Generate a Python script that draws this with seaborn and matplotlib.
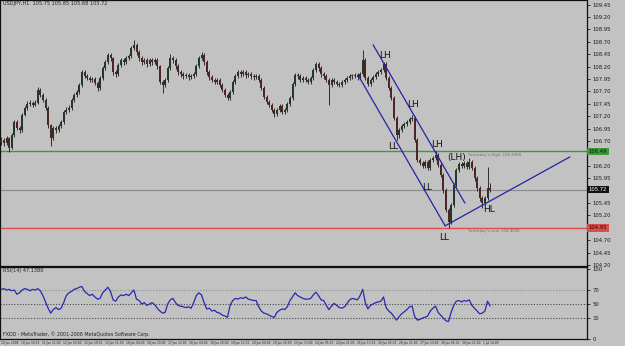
import numpy as np
import pandas as pd
import matplotlib
matplotlib.use("Agg")
import matplotlib.pyplot as plt
import matplotlib.transforms as mtransforms
import seaborn as sns

# ---------------- data ----------------
symbol = "USDJPY,H1"
first_open = 106.68
closes = [
    106.72, 106.66, 106.76, 106.56, 106.82, 107.08, 106.96, 106.92, 107.23, 107.37,
    107.45, 107.47, 107.43, 107.47, 107.73, 107.63, 107.53, 107.37, 107.02, 106.76,
    106.96, 106.92, 107.00, 107.08, 107.29, 107.33, 107.37, 107.53, 107.63, 107.69,
    107.83, 108.09, 108.01, 107.97, 107.93, 107.95, 107.87, 107.77, 107.97, 108.17,
    108.29, 108.43, 108.37, 108.09, 108.05, 108.23, 108.33, 108.29, 108.37, 108.41,
    108.58, 108.64, 108.49, 108.37, 108.29, 108.33, 108.25, 108.33, 108.29, 108.33,
    108.21, 107.89, 107.83, 107.93, 108.17, 108.37, 108.33, 108.21, 108.09, 108.05,
    108.01, 108.03, 107.99, 108.01, 108.05, 108.21, 108.37, 108.43, 108.29, 108.09,
    107.99, 107.93, 107.89, 107.93, 107.83, 107.73, 107.63, 107.57, 107.69, 107.89,
    108.01, 108.09, 108.05, 108.09, 108.03, 108.05, 108.01, 107.99, 108.01, 107.93,
    107.77, 107.59, 107.49, 107.43, 107.33, 107.24, 107.33, 107.41, 107.29, 107.33,
    107.45, 107.57, 107.85, 108.03, 108.01, 107.93, 107.97, 107.93, 107.89, 107.97,
    108.13, 108.25, 108.17, 108.05, 108.01, 107.93, 107.83, 107.93, 107.89, 107.85,
    107.83, 107.89, 107.93, 107.97, 108.01, 108.01, 108.03, 107.99, 108.05, 108.33,
    107.97, 107.85, 107.93, 107.99, 108.05, 108.09, 108.13, 108.25, 107.97, 107.77,
    107.57, 107.17, 106.82, 106.92, 107.00, 107.04, 107.08, 107.14, 107.17, 106.72,
    106.32, 106.26, 106.20, 106.28, 106.16, 106.32, 106.36, 106.42, 106.22, 106.02,
    105.71, 105.31, 105.07, 105.41, 105.81, 106.12, 106.24, 106.20, 106.26, 106.18,
    106.28, 106.16, 105.95, 105.75, 105.55, 105.45, 105.55, 105.75, 105.72,
]
highs = [
    106.78, 106.76, 106.80, 106.79, 106.86, 107.12, 107.12, 107.00, 107.27, 107.41,
    107.50, 107.52, 107.51, 107.52, 107.79, 107.77, 107.66, 107.56, 107.40, 107.05,
    107.00, 107.01, 107.05, 107.13, 107.33, 107.38, 107.42, 107.57, 107.67, 107.73,
    107.87, 108.14, 108.13, 108.05, 108.01, 108.00, 107.99, 107.90, 108.01, 108.21,
    108.33, 108.48, 108.47, 108.40, 108.13, 108.27, 108.37, 108.37, 108.41, 108.46,
    108.62, 108.74, 108.68, 108.53, 108.41, 108.38, 108.37, 108.37, 108.37, 108.37,
    108.37, 108.24, 107.93, 107.97, 108.21, 108.45, 108.41, 108.37, 108.25, 108.13,
    108.09, 108.07, 108.07, 108.05, 108.09, 108.25, 108.41, 108.50, 108.47, 108.33,
    108.13, 108.03, 107.97, 107.97, 107.97, 107.87, 107.77, 107.67, 107.73, 107.93,
    108.05, 108.13, 108.13, 108.13, 108.13, 108.09, 108.09, 108.05, 108.05, 108.05,
    107.97, 107.81, 107.63, 107.53, 107.47, 107.37, 107.37, 107.45, 107.45, 107.37,
    107.49, 107.61, 107.89, 108.07, 108.07, 108.05, 108.01, 108.01, 107.97, 108.01,
    108.17, 108.29, 108.29, 108.21, 108.09, 108.05, 107.97, 107.97, 107.97, 107.93,
    107.89, 107.93, 107.97, 108.01, 108.05, 108.05, 108.07, 108.07, 108.09, 108.54,
    108.37, 108.01, 107.97, 108.03, 108.09, 108.13, 108.17, 108.29, 108.29, 108.01,
    107.81, 107.61, 107.21, 106.96, 107.04, 107.08, 107.12, 107.18, 107.23, 107.21,
    106.76, 106.36, 106.30, 106.32, 106.32, 106.36, 106.40, 106.49, 106.46, 106.26,
    106.06, 105.75, 105.35, 105.45, 105.85, 106.16, 106.28, 106.28, 106.30, 106.30,
    106.36, 106.32, 106.20, 105.99, 105.79, 105.59, 105.59, 106.18, 105.85,
]
lows = [
    106.62, 106.60, 106.62, 106.48, 106.53, 106.79, 106.92, 106.86, 106.88, 107.20,
    107.33, 107.41, 107.38, 107.40, 107.44, 107.58, 107.48, 107.32, 106.96, 106.60,
    106.72, 106.87, 106.88, 106.96, 107.04, 107.25, 107.29, 107.33, 107.49, 107.59,
    107.65, 107.79, 107.97, 107.92, 107.88, 107.89, 107.82, 107.71, 107.73, 107.93,
    108.13, 108.25, 108.32, 108.04, 108.00, 108.01, 108.19, 108.24, 108.25, 108.33,
    108.37, 108.54, 108.44, 108.32, 108.24, 108.25, 108.20, 108.21, 108.24, 108.25,
    108.16, 107.84, 107.67, 107.78, 107.89, 108.13, 108.28, 108.16, 108.04, 108.00,
    107.96, 107.97, 107.94, 107.95, 107.97, 108.01, 108.17, 108.33, 108.24, 108.04,
    107.94, 107.88, 107.84, 107.85, 107.78, 107.68, 107.58, 107.53, 107.53, 107.65,
    107.85, 107.97, 108.00, 108.01, 107.98, 107.99, 107.96, 107.94, 107.95, 107.88,
    107.72, 107.54, 107.44, 107.38, 107.28, 107.18, 107.20, 107.29, 107.24, 107.25,
    107.29, 107.41, 107.53, 107.81, 107.96, 107.88, 107.89, 107.88, 107.84, 107.85,
    107.93, 108.09, 108.12, 108.00, 107.96, 107.88, 107.43, 107.78, 107.84, 107.80,
    107.78, 107.79, 107.85, 107.89, 107.93, 107.96, 107.97, 107.94, 107.95, 108.01,
    107.92, 107.80, 107.81, 107.89, 107.95, 108.01, 108.05, 108.09, 107.92, 107.72,
    107.52, 107.12, 106.72, 106.76, 106.88, 106.96, 107.00, 107.04, 107.10, 106.67,
    106.27, 106.21, 106.15, 106.16, 106.11, 106.12, 106.28, 106.32, 106.17, 105.97,
    105.66, 105.26, 104.95, 105.03, 105.37, 105.77, 106.08, 106.15, 106.16, 106.13,
    106.14, 106.11, 105.90, 105.70, 105.50, 105.35, 105.41, 105.51, 105.68,
]
rsi = [
    71, 72, 70, 71, 69, 70, 64, 66, 70, 72,
    71, 69, 71, 70, 72, 69, 62, 53, 44, 37,
    42, 45, 42, 44, 52, 62, 66, 68, 71, 72,
    74, 75, 68, 65, 62, 64, 60, 57, 58, 66,
    70, 74, 68, 56, 54, 60, 63, 62, 64, 62,
    66, 70, 57, 55, 50, 52, 48, 50, 52, 49,
    44, 40, 37, 38, 50, 56, 58, 52, 48, 47,
    46, 45, 46, 44, 52, 62, 66, 63, 52, 43,
    44, 40, 41, 38, 37, 34, 33, 31, 48, 55,
    58, 57, 59, 58, 60, 57, 56, 55, 55, 46,
    40, 37, 36, 34, 32, 31, 38, 41, 43, 42,
    46, 55, 60, 66, 62, 60, 58, 57, 57, 58,
    63, 67, 62, 56, 55, 48, 42, 47, 51, 48,
    45, 44, 46, 51, 56, 58, 57, 56, 62, 71,
    52, 43, 48, 50, 52, 53, 54, 60, 45, 40,
    37, 32, 27, 32, 36, 39, 42, 46, 47, 32,
    27, 28, 30, 31, 33, 40, 44, 47, 38, 34,
    30, 26, 25, 38, 48, 54, 55, 53, 55, 54,
    56, 48, 44, 40, 36, 37, 40, 54, 47.138,
]
yest_high = 106.49
yest_low = 104.95
price_ticks = [104.20, 104.45, 104.70, 104.95, 105.20, 105.45, 105.70, 105.95,
               106.20, 106.45, 106.70, 106.95, 107.20, 107.45, 107.70, 107.95,
               108.20, 108.45, 108.70, 108.95, 109.20, 109.45]
rsi_ticks = [0, 30, 50, 70, 100]
date_labels = ["10 Jun 2008", "10 Jun 19:00", "11 Jun 11:00", "12 Jun 03:00",
               "12 Jun 19:00", "13 Jun 11:00", "16 Jun 04:00", "16 Jun 20:00",
               "17 Jun 12:00", "18 Jun 04:00", "18 Jun 20:00", "19 Jun 12:00",
               "20 Jun 04:00", "20 Jun 20:00", "23 Jun 13:00", "24 Jun 05:00",
               "24 Jun 21:00", "25 Jun 13:00", "26 Jun 05:00", "26 Jun 21:00",
               "27 Jun 13:00", "30 Jun 05:00", "30 Jun 21:00", "1 Jul 14:00"]
# hand-drawn objects on the chart (bar index, price)
channel_upper = ([143.0, 178.3], [108.64, 105.45])
channel_lower = ([137.2, 170.7], [108.03, 104.99])
support_line = ([170.7, 218.7], [104.99, 106.38])
swing_labels = ["LH", "LH", "LL", "LH", "(LH)", "LL", "HL", "LL"]
swing_bar = [147.6, 158.3, 150.7, 167.6, 175.3, 163.7, 187.6, 170.3]
swing_price = [108.43, 107.43, 106.58, 106.62, 106.36, 105.77, 105.31, 104.76]

# ---------------- build frame ----------------
df = pd.DataFrame({"close": closes, "high": highs, "low": lows, "rsi": rsi})
df["open"] = [first_open] + closes[:-1]
df["bar"] = np.arange(len(df))
df["up"] = df["close"] >= df["open"]

bg = "#c2c2c2"
sns.set_style("white", {"axes.facecolor": bg, "figure.facecolor": bg})
plt.rcParams["font.family"] = ["DejaVu Sans"]

W, H = 625, 346
fig = plt.figure(figsize=(W / 100, H / 100), dpi=100)
ax = fig.add_axes([0, 1 - 266 / H, 587 / W, 266 / H])
ax_r = fig.add_axes([0, 1 - 339 / H, 587 / W, (339 - 267) / H])

px_per_bar = 2.6
xlim = (-0.5, 587 / px_per_bar - 0.5)
for a in (ax, ax_r):
    a.set_xlim(*xlim)
    a.set_facecolor(bg)
    for s in a.spines.values():
        s.set_color("#101010")
        s.set_linewidth(0.9)
ax.set_ylim(104.18, 109.543)
ax_r.set_ylim(0, 102.9)

# ---------------- candles ----------------
wick = "#161616"
ax.vlines(df["bar"], df["low"], df["high"], color=wick, lw=0.6, zorder=3)
body = (df["close"] - df["open"]).abs().clip(lower=0.012)
ax.bar(df["bar"], body, bottom=df[["open", "close"]].min(axis=1), width=0.62,
       color=np.where(df["up"], "#24382a", "#4f2424"), edgecolor="none", zorder=4)

# horizontal levels
ax.axhline(yest_high, color="#3a9a3a", lw=1.0, zorder=2)
ax.axhline(yest_low, color="#e04a4a", lw=1.0, zorder=2)
ax.axhline(closes[-1], color="#8a8a8a", lw=0.8, zorder=2)
ax.text(179.5, yest_high - 0.03, f"Yesterday's High: {yest_high:.4f}", fontsize=2.8,
        color="#6e6e6e", va="top", ha="left")
ax.text(179.5, yest_low - 0.03, f"Yesterday's Low: {yest_low:.4f}", fontsize=2.8,
        color="#6e6e6e", va="top", ha="left")

# trend lines
for xs, ys in (channel_upper, channel_lower, support_line):
    ax.plot(xs, ys, color="#2323a8", lw=0.9, zorder=5)

for t, b, p in zip(swing_labels, swing_bar, swing_price):
    ax.text(b, p, t, fontsize=6.5, color="#111111", ha="center", va="center", zorder=6)

# header
ax.text(0.005, 0.995, f"{symbol}  {df['open'].iloc[-1]:.2f} {highs[-1]:.2f} "
        f"{lows[-1]:.2f} {closes[-1]:.2f}", transform=ax.transAxes,
        fontsize=3.6, color="#222222", va="top", ha="left")

# price axis; labels hidden where a price box sits on top
boxes = [(yest_high, "#3a9a3a", "#111111"),
         (closes[-1], "#111111", "#ffffff"),
         (yest_low, "#e04a4a", "#111111")]
ax.yaxis.tick_right()
ax.set_yticks(price_ticks)
ax.set_yticklabels(["" if min(abs(v - b[0]) for b in boxes) < 0.1 else f"{v:.2f}"
                    for v in price_ticks])
ax.tick_params(axis="y", direction="out", length=2.5, width=0.6, labelsize=3.8,
               pad=1.5, colors="#1a1a1a")
ax.tick_params(axis="x", bottom=False, labelbottom=False)
trans = mtransforms.blended_transform_factory(ax.transAxes, ax.transData)
for val, fc, tc in boxes:
    ax.text(1.003, val, f"{val:.2f}", transform=trans, fontsize=3.8, color=tc,
            ha="left", va="center", clip_on=False, zorder=10,
            bbox=dict(boxstyle="square,pad=0.25", fc=fc, ec="none"))

# ---------------- RSI ----------------
for lvl, col in ((70, "#8f8f8f"), (50, "#4a4a4a"), (30, "#4a4a4a")):
    ax_r.axhline(lvl, color=col, lw=0.8, ls=(0, (1, 1.5)), zorder=1)
sns.lineplot(data=df, x="bar", y="rsi", ax=ax_r, color="#2828b4", lw=0.9, zorder=3)
ax_r.set_xlabel("")
ax_r.set_ylabel("")
ax_r.yaxis.tick_right()
ax_r.set_yticks(rsi_ticks)
ax_r.set_yticklabels([str(v) for v in rsi_ticks])
ax_r.tick_params(axis="y", direction="out", length=2.5, width=0.6, labelsize=3.8,
                 pad=1.5, colors="#1a1a1a")
ax_r.text(0.005, 0.985, f"RSI(14) {rsi[-1]:.4f}", transform=ax_r.transAxes,
          fontsize=3.6, color="#222222", va="top", ha="left")
ax_r.text(0.005, 0.03, "FXDD - MetaTrader, \u00a9 2001-2008 MetaQuotes Software Corp.",
          transform=ax_r.transAxes, fontsize=3.4, color="#222222", va="bottom", ha="left")

# date axis: separators every ~8 bars, label just right of each separator
sep_first, sep_step = 7.2, 21 / px_per_bar
seps = sep_first + sep_step * np.arange(len(date_labels) - 1)
ax_r.set_xticks(seps)
ax_r.set_xticklabels([""] * len(seps))
ax_r.tick_params(axis="x", direction="out", length=7, width=0.6, colors="#333333")
label_x = np.concatenate([[xlim[0]], seps])
tr_x = mtransforms.blended_transform_factory(ax_r.transData, ax_r.transAxes)
for x, lab in zip(label_x, date_labels):
    ax_r.text(x + 0.45, -0.03, lab, transform=tr_x, fontsize=2.1, color="#1a1a1a",
              ha="left", va="top", clip_on=False)

fig.savefig("out.png", dpi=100, facecolor=bg)
